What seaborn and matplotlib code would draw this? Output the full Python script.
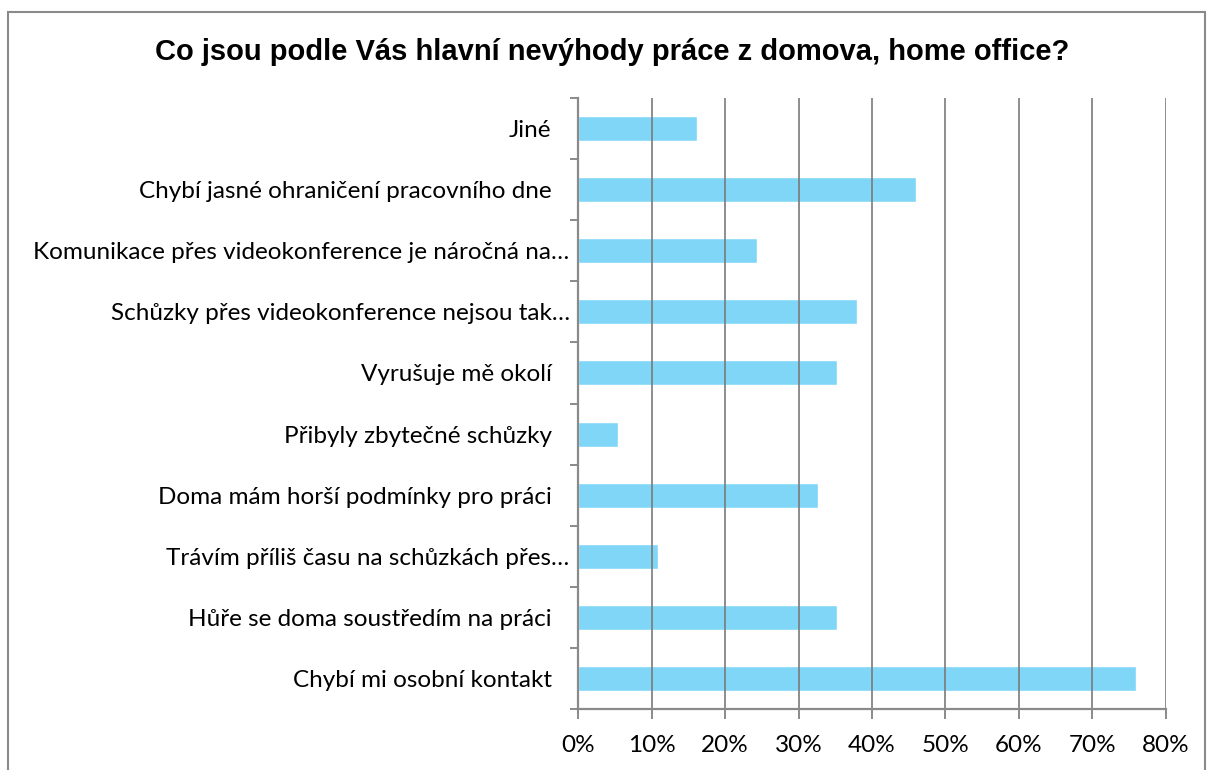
import numpy as np
import pandas as pd
import seaborn as sns
import matplotlib.pyplot as plt
import matplotlib.transforms as mtransforms
from matplotlib.patches import Rectangle
from matplotlib.ticker import PercentFormatter, FixedLocator

# Data
categories = [
    'Jiné',
    'Chybí jasné ohraničení pracovního dne',
    'Komunikace přes videokonference je náročná na…',
    'Schůzky přes videokonference nejsou tak…',
    'Vyrušuje mě okolí',
    'Přibyly zbytečné schůzky',
    'Doma mám horší podmínky pro práci',
    'Trávím příliš času na schůzkách přes…',
    'Hůře se doma soustředím na práci',
    'Chybí mi osobní kontakt',
]
shares = [16.2, 46.0, 24.4, 38.0, 35.3, 5.4, 32.6, 10.9, 35.3, 75.9]
x_ticks = [0, 10, 20, 30, 40, 50, 60, 70, 80]

df = pd.DataFrame({'category': categories, 'share': shares})

sns.set_style('white')
plt.rcParams['font.family'] = ['Lato', 'DejaVu Sans']
plt.rcParams['text.color'] = 'black'

fig = plt.figure(figsize=(12.08, 7.7), dpi=100)
ax = fig.add_axes([0.4785, 0.0792, 0.4867, 0.7935])

sns.barplot(data=df, x='share', y='category', orient='h', color='#7fd6f7',
            saturation=1, width=0.41, ax=ax, zorder=1)

ax.set_xlim(0, 80)
ax.set_ylim(len(categories) - 0.5, -0.5)
ax.xaxis.set_major_locator(FixedLocator(x_ticks))
ax.xaxis.set_major_formatter(PercentFormatter(decimals=0))
ax.grid(axis='x', color='#7a7a7a', linewidth=1.4, alpha=0.85, zorder=3)
ax.set_axisbelow(False)

# ticks at category boundaries on y
ax.yaxis.set_minor_locator(FixedLocator(np.arange(-0.5, len(categories), 1.0)))
ax.tick_params(axis='y', which='major', length=0, pad=19, labelsize=17.5, labelcolor='black')
ax.tick_params(axis='y', which='minor', length=6, width=1.4, color='#8a8a8a', left=True)
ax.tick_params(axis='x', which='major', length=7, width=1.4, color='#8a8a8a', pad=12,
               labelsize=17.5, labelcolor='black', bottom=True)

# truncated labels sit closer to the axis
shift = mtransforms.ScaledTranslation(18 / 100, 0, fig.dpi_scale_trans)
for lbl in ax.get_yticklabels():
    if lbl.get_text().endswith('…'):
        lbl.set_transform(lbl.get_transform() + shift)

ax.set_xlabel('')
ax.set_ylabel('')
for side in ['top', 'right']:
    ax.spines[side].set_visible(False)
for side in ['left', 'bottom']:
    ax.spines[side].set_color('#8a8a8a')
    ax.spines[side].set_linewidth(1.6)
    ax.spines[side].set_zorder(4)

fig.text(0.507, 0.932, 'Co jsou podle Vás hlavní nevýhody práce z domova, home office?',
         ha='center', va='center', fontsize=21, fontweight='bold', color='black',
         family=['Liberation Sans', 'DejaVu Sans'])

# outer frame
fig.patches.append(Rectangle((8 / 1208, -0.05), 1197 / 1208, 1.05 - 12 / 770,
                             transform=fig.transFigure, fill=False,
                             edgecolor='#8a8a8a', linewidth=1.5))

fig.savefig('out.png', dpi=100)
